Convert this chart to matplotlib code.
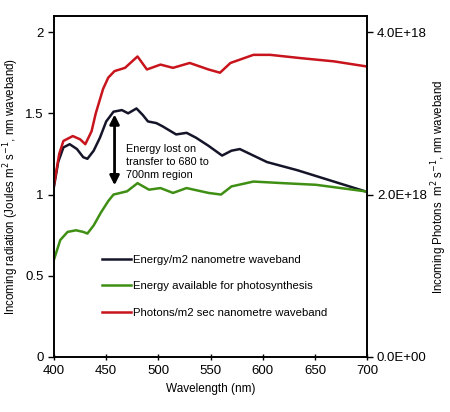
import matplotlib.pyplot as plt
from matplotlib.ticker import FuncFormatter

plt.rcParams['font.family'] = ['Liberation Sans', 'DejaVu Sans']

# wavelength (nm) and energy curves (Joules m2 s-1 per nm)
wl_energy = [400, 404, 409, 415, 422, 428, 432, 438, 444, 450, 457, 465, 471, 479, 485, 490,
             498, 504, 517, 527, 536, 548, 561, 570, 578, 604, 633, 668, 698]
energy = [1.05, 1.20, 1.29, 1.31, 1.28, 1.23, 1.22, 1.27, 1.35, 1.45, 1.51, 1.52, 1.50, 1.53,
          1.49, 1.45, 1.44, 1.42, 1.37, 1.38, 1.35, 1.30, 1.24, 1.27, 1.28, 1.20, 1.15, 1.08, 1.02]

wl_avail = [400, 406, 413, 421, 428, 432, 438, 445, 452, 457, 470, 480, 491, 502, 514, 527,
            548, 560, 570, 591, 620, 651, 698]
avail = [0.60, 0.72, 0.77, 0.78, 0.77, 0.76, 0.81, 0.89, 0.96, 1.00, 1.02, 1.07, 1.03, 1.04,
         1.01, 1.04, 1.01, 1.00, 1.05, 1.08, 1.07, 1.06, 1.02]

# photons m2 s-1 per nm
wl_photons = [400, 405, 409, 418, 425, 430, 436, 440, 447, 452, 458, 468, 480, 489, 502, 514,
              530, 548, 559, 569, 591, 607, 636, 668, 698]
photons = [2.12e18, 2.50e18, 2.66e18, 2.72e18, 2.68e18, 2.62e18, 2.78e18, 3.00e18, 3.30e18,
           3.44e18, 3.52e18, 3.56e18, 3.70e18, 3.54e18, 3.60e18, 3.56e18, 3.62e18, 3.54e18,
           3.50e18, 3.62e18, 3.72e18, 3.72e18, 3.68e18, 3.64e18, 3.58e18]

fig = plt.figure(figsize=(4.5, 4.12), dpi=100)
ax = fig.add_axes([0.12, 0.1335, 0.696, 0.828])
ax2 = ax.twinx()

l1, = ax.plot(wl_energy, energy, color='#15152a', lw=1.8, label='Energy/m2 nanometre waveband')
l2, = ax.plot(wl_avail, avail, color='#3f8f14', lw=1.8, label='Energy available for photosynthesis')
l3, = ax2.plot(wl_photons, photons, color='#c8141c', lw=1.8, label='Photons/m2 sec nanometre waveband')

ax.set_xlim(400, 700)
ax.set_ylim(0, 2.1)
ax.set_xticks(range(400, 701, 50))
ax.set_yticks([0, 0.5, 1, 1.5, 2])
ax.set_yticklabels(['0', '0.5', '1', '1.5', '2'])
ax2.set_ylim(0, 4.2e18)
ax2.set_yticks([0, 2e18, 4e18])
ax2.yaxis.set_major_formatter(FuncFormatter(lambda v, p: '%.1fE+%02d' % (v / 1e18 if v else 0, 18 if v else 0)))

ax.tick_params(axis='x', direction='inout', length=5, labelsize=9.5, width=1)
ax.tick_params(axis='y', direction='out', length=4, labelsize=9.5, width=1)
ax2.tick_params(axis='y', direction='out', length=4, labelsize=9.5, width=1, pad=3)
for a in (ax, ax2):
    for s in a.spines.values():
        s.set_linewidth(1.2)

ax.set_xlabel('Wavelength (nm)', fontsize=8.5)
ax.set_ylabel('Incoming radiation (Joules m$^2$ s$^{-1}$, nm waveband)', fontsize=8.3, labelpad=3)
ax2.set_ylabel('Incoming Photons  m$^2$ s$^{-1}$, nm waveband', fontsize=8.3, labelpad=2)

ax.annotate('', xy=(458, 1.51), xytext=(458, 1.04),
            arrowprops=dict(arrowstyle='<|-|>', color='black', lw=2, mutation_scale=14))
ax.text(469, 1.31, 'Energy lost on\ntransfer to 680 to\n700nm region', fontsize=7.8,
        va='top', ha='left', linespacing=1.35)

ax.legend(handles=[l1, l2, l3], loc='upper left', bbox_to_anchor=(0.12, 0.33), frameon=False,
          fontsize=8.2, handlelength=2.6, handletextpad=0.1, labelspacing=1.45)

fig.savefig('out.png', dpi=100)
